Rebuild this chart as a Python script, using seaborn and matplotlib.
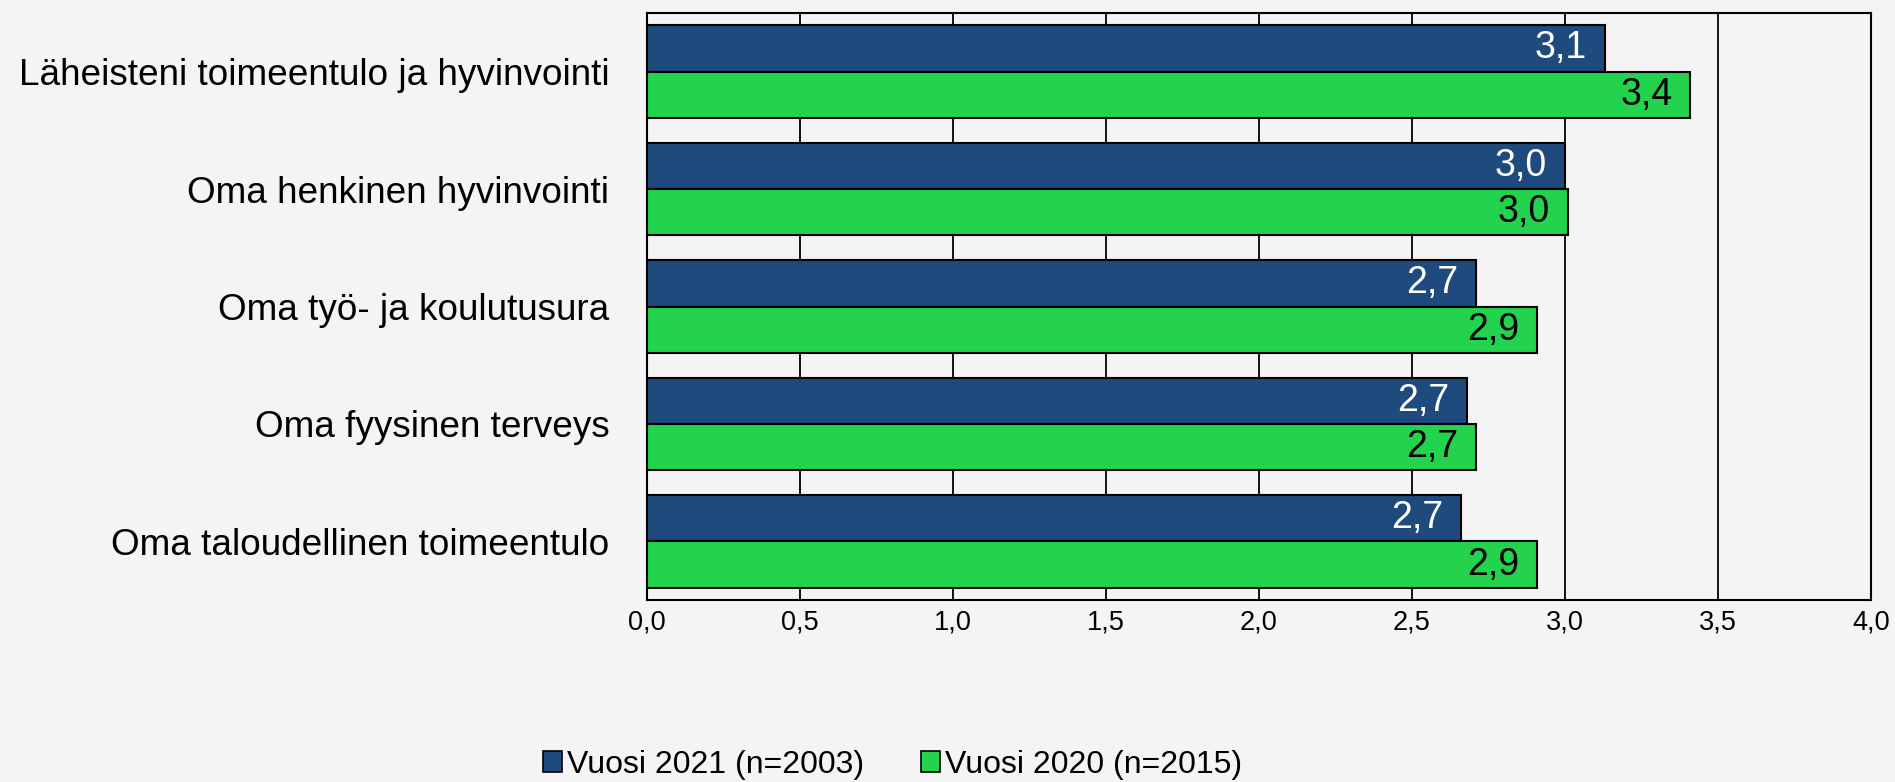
import pandas as pd
import matplotlib
matplotlib.use("Agg")
import matplotlib.pyplot as plt
import seaborn as sns
from matplotlib.patches import Patch

categories = ["Läheisteni toimeentulo ja hyvinvointi", "Oma henkinen hyvinvointi",
              "Oma työ- ja koulutusura", "Oma fyysinen terveys", "Oma taloudellinen toimeentulo"]
series = ["Vuosi 2021 (n=2003)", "Vuosi 2020 (n=2015)"]
vals_2021 = [3.13, 3.00, 2.71, 2.68, 2.66]
vals_2020 = [3.41, 3.01, 2.91, 2.71, 2.91]
xticks = [0.0, 0.5, 1.0, 1.5, 2.0, 2.5, 3.0, 3.5, 4.0]

colors = ["#1F4A7D", "#23D34D"]
label_colors = ["white", "black"]
bg = "#F4F4F4"

df = pd.DataFrame({
    "kategoria": categories * 2,
    "arvo": vals_2021 + vals_2020,
    "sarja": [series[0]] * 5 + [series[1]] * 5,
})

sns.set_style("white")
plt.rcParams['font.family'] = ['Liberation Sans', 'DejaVu Sans']
plt.rcParams['text.color'] = 'black'
plt.rcParams['xtick.color'] = 'black'
plt.rcParams['ytick.color'] = 'black'

fig = plt.figure(figsize=(18.95, 7.82), dpi=100, facecolor=bg)
ax = fig.add_axes([0.3414, 0.2327, 0.6459, 0.7507])
ax.set_facecolor(bg)

sns.barplot(data=df, y="kategoria", x="arvo", hue="sarja", orient="h",
            palette=colors, saturation=1, width=0.79, edgecolor="black", linewidth=1.5,
            legend=False, ax=ax, zorder=3)

for xv in xticks[1:-1]:
    ax.axvline(xv, color="black", lw=1.3, zorder=1)

ax.set_xlim(0, 4.0)
ax.set_xticks(xticks)
ax.set_xticklabels([f"{t:.1f}".replace(".", ",") for t in xticks], fontsize=19.5, color="black")
ax.tick_params(axis="x", length=0, pad=7, labelcolor="black")
ax.tick_params(axis="y", length=0, pad=27, labelsize=26.6, labelcolor="black")
ax.set_xlabel("")
ax.set_ylabel("")
for s in ax.spines.values():
    s.set_color("black")
    s.set_linewidth(1.5)
    s.set_visible(True)

for i, cont in enumerate(ax.containers):
    for bar in cont:
        w = bar.get_width()
        ax.annotate(f"{w:.1f}".replace(".", ","),
                    xy=(w, bar.get_y() + bar.get_height() / 2),
                    xytext=(-13, 0), textcoords="offset points",
                    ha="right", va="center", fontsize=27,
                    color=label_colors[i], zorder=4)

handles = [Patch(facecolor=c, edgecolor="black", linewidth=1.2) for c in colors]
fig.legend(handles, series, loc="center", bbox_to_anchor=(0.471, 0.022), ncol=2,
           frameon=False, fontsize=23, handlelength=0.6, handleheight=0.6,
           handletextpad=0.15, columnspacing=1.8, labelcolor="black")

fig.savefig("out.png", dpi=100, facecolor=bg)
